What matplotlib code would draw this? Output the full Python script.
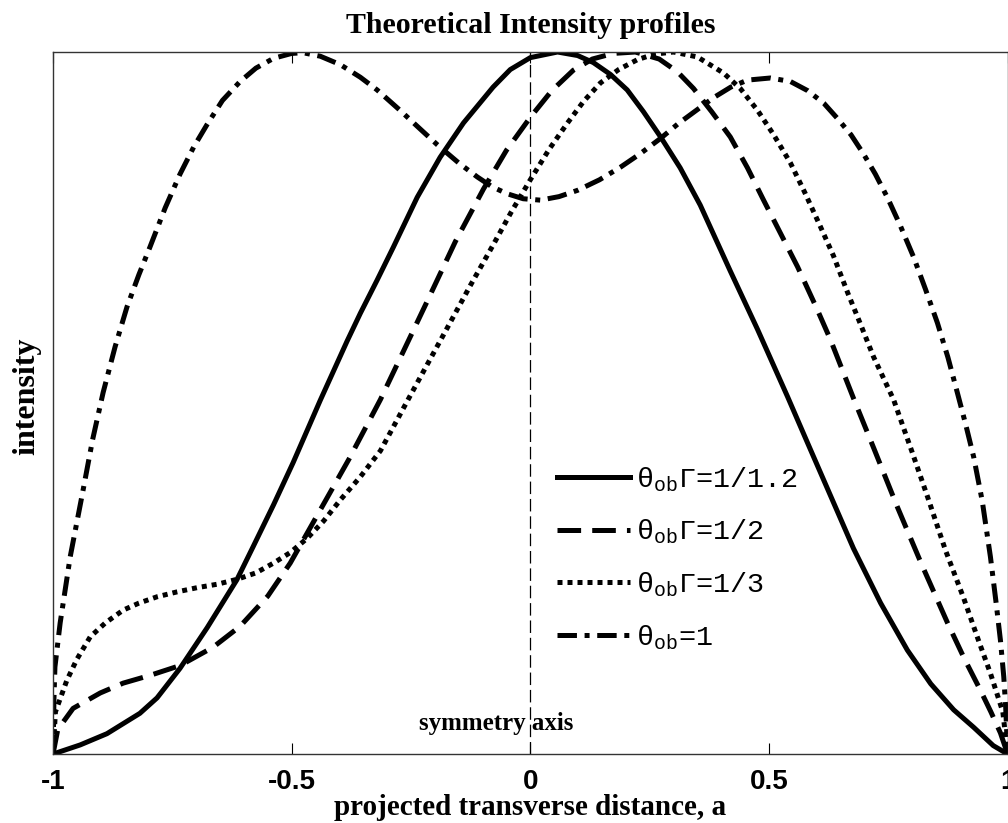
import matplotlib
matplotlib.use("Agg")
import matplotlib.pyplot as plt

plt.rcParams["axes.unicode_minus"] = False
plt.rcParams["lines.scale_dashes"] = False

# theta_ob * Gamma = 1/1.2
solid_x = [-1.0, -0.943, -0.887, -0.818, -0.782, -0.734, -0.677, -0.615, -0.581, -0.538,
           -0.497, -0.44, -0.384, -0.356, -0.321, -0.287, -0.237, -0.189, -0.14, -0.078,
           -0.042, 0.0, 0.057, 0.099, 0.132, 0.168, 0.203, 0.237, 0.273, 0.314,
           0.356, 0.419, 0.476, 0.539, 0.581, 0.629, 0.677, 0.734, 0.790, 0.839,
           0.887, 0.929, 0.97, 1.0]
solid_y = [0.0, 0.013, 0.029, 0.058, 0.080, 0.122, 0.18, 0.248, 0.295, 0.355,
           0.415, 0.504, 0.588, 0.628, 0.675, 0.722, 0.793, 0.850, 0.899, 0.950,
           0.975, 0.992, 1.0, 0.995, 0.985, 0.968, 0.946, 0.915, 0.879, 0.835,
           0.782, 0.688, 0.605, 0.509, 0.443, 0.368, 0.293, 0.215, 0.148, 0.100,
           0.063, 0.038, 0.012, 0.0]

# theta_ob * Gamma = 1/2
dashed_x = [-1.0, -0.99, -0.958, -0.901, -0.853, -0.797, -0.734, -0.665, -0.608, -0.55,
            -0.503, -0.434, -0.38, -0.314, -0.216, -0.157, -0.098, -0.05, 0.0, 0.045,
            0.09, 0.13, 0.174, 0.22, 0.27, 0.308, 0.342, 0.38, 0.419, 0.455,
            0.488, 0.524, 0.56, 0.6, 0.629, 0.677, 0.72, 0.769, 0.82, 0.874,
            0.91, 0.943, 0.965, 0.985, 1.0]
dashed_y = [0.0, 0.035, 0.065, 0.087, 0.101, 0.112, 0.126, 0.152, 0.182, 0.225,
            0.272, 0.355, 0.42, 0.505, 0.645, 0.73, 0.805, 0.86, 0.907, 0.945,
            0.974, 0.99, 0.998, 1.0, 0.99, 0.972, 0.948, 0.915, 0.879, 0.835,
            0.79, 0.742, 0.694, 0.635, 0.59, 0.507, 0.435, 0.352, 0.27, 0.187,
            0.135, 0.091, 0.06, 0.03, 0.0]

# theta_ob * Gamma = 1/3
dotted_x = [-1.0, -0.995, -0.971, -0.95, -0.922, -0.89, -0.853, -0.82, -0.782, -0.74,
            -0.698, -0.655, -0.614, -0.575, -0.538, -0.503, -0.468, -0.433, -0.398, -0.356,
            -0.314, -0.252, -0.174, -0.126, -0.078, -0.04, 0.0, 0.04, 0.078, 0.112,
            0.147, 0.185, 0.224, 0.26, 0.30, 0.35, 0.405, 0.44, 0.476, 0.51,
            0.545, 0.575, 0.608, 0.635, 0.665, 0.692, 0.719, 0.761, 0.80, 0.832,
            0.87, 0.908, 0.94, 0.964, 0.99, 1.0]
dotted_y = [0.0, 0.06, 0.105, 0.135, 0.167, 0.187, 0.205, 0.215, 0.224, 0.231,
            0.237, 0.242, 0.249, 0.258, 0.272, 0.287, 0.307, 0.332, 0.362, 0.395,
            0.432, 0.51, 0.607, 0.667, 0.725, 0.772, 0.818, 0.862, 0.899, 0.93,
            0.956, 0.975, 0.989, 0.997, 1.0, 0.993, 0.970, 0.948, 0.917, 0.882,
            0.842, 0.8, 0.751, 0.71, 0.657, 0.612, 0.566, 0.505, 0.43, 0.367,
            0.29, 0.222, 0.16, 0.115, 0.06, 0.0]

# theta_ob = 1
dashdot_x = [-1.0, -0.998, -0.996, -0.985, -0.964, -0.937, -0.917, -0.895, -0.87, -0.845,
             -0.82, -0.797, -0.765, -0.734, -0.705, -0.677, -0.645, -0.608, -0.575, -0.538,
             -0.5, -0.476, -0.44, -0.398, -0.356, -0.321, -0.273, -0.235, -0.195, -0.15,
             -0.111, -0.08, -0.048, -0.015, 0.021, 0.06, 0.099, 0.145, 0.189, 0.23,
             0.273, 0.31, 0.35, 0.384, 0.42, 0.455, 0.503, 0.545, 0.581, 0.615,
             0.644, 0.672, 0.698, 0.723, 0.748, 0.775, 0.803, 0.828, 0.853, 0.875,
             0.895, 0.912, 0.929, 0.947, 0.964, 0.976, 0.985, 0.992, 0.996, 1.0]
dashdot_y = [0.0, 0.08, 0.124, 0.187, 0.281, 0.376, 0.448, 0.515, 0.58, 0.637,
             0.683, 0.722, 0.778, 0.826, 0.865, 0.897, 0.931, 0.958, 0.977, 0.991,
             0.998, 0.999, 0.994, 0.982, 0.964, 0.946, 0.917, 0.893, 0.868, 0.842,
             0.822, 0.808, 0.798, 0.791, 0.789, 0.794, 0.803, 0.818, 0.836, 0.855,
             0.877, 0.898, 0.918, 0.935, 0.950, 0.960, 0.963, 0.958, 0.945, 0.927,
             0.905, 0.882, 0.855, 0.826, 0.793, 0.753, 0.708, 0.662, 0.614, 0.565,
             0.514, 0.470, 0.423, 0.360, 0.281, 0.215, 0.162, 0.11, 0.067, 0.0]

labels = [r"θ$_{\mathregular{ob}}$Γ=1/1.2", r"θ$_{\mathregular{ob}}$Γ=1/2",
          r"θ$_{\mathregular{ob}}$Γ=1/3", r"θ$_{\mathregular{ob}}$=1"]
x_ticks = [-1, -0.5, 0, 0.5, 1]
x_tick_labels = ["-1", "-0.5", "0", "0.5", "1"]

fig = plt.figure(figsize=(10.08, 8.23), dpi=100)
ax = fig.add_axes([0.0526, 0.0838, 0.947, 0.853])

lw = 3.6
ax.plot(solid_x, solid_y, color="black", lw=lw, label=labels[0])
ax.plot(dashed_x, dashed_y, color="black", lw=lw, dashes=(17, 8), label=labels[1])
ax.plot(dotted_x, dotted_y, color="black", lw=lw, dashes=(3.6, 3.6), label=labels[2])
ax.plot(dashdot_x, dashdot_y, color="black", lw=lw, dashes=(14, 5.5, 3.6, 5.5), label=labels[3])

ax.axvline(0, color="black", lw=0.9, dashes=(9, 3.5))
ax.text(-0.072, 0.043, "symmetry axis", ha="center", va="center",
        family="Liberation Serif", fontweight="bold", fontsize=18)

ax.set_xlim(-1, 1)
ax.set_ylim(0, 1)
ax.set_xticks(x_ticks)
ax.set_xticklabels(x_tick_labels, family="Liberation Sans", fontweight="bold", fontsize=20)
ax.set_yticks([])
ax.tick_params(axis="x", direction="in", length=8, top=True, pad=11)
for s in ax.spines.values():
    s.set_linewidth(1.0)
    s.set_color("#333333")

ax.set_title("Theoretical Intensity profiles", family="Liberation Serif",
             fontweight="bold", fontsize=21.5, pad=14)
ax.set_xlabel("projected transverse distance, a", family="Liberation Serif",
              fontweight="bold", fontsize=21, labelpad=-1)
ax.set_ylabel("intensity", family="Liberation Serif", fontweight="bold",
              fontsize=23)
ax.yaxis.set_label_coords(-0.012, 0.51)

ax.legend(loc="upper left", bbox_to_anchor=(0.528, 0.412), frameon=False,
          prop={"family": "Liberation Mono", "size": 20.5},
          handlelength=2.57, handletextpad=0.2, labelspacing=0.84,
          borderpad=0, borderaxespad=0)

fig.savefig("out.png", dpi=100)
